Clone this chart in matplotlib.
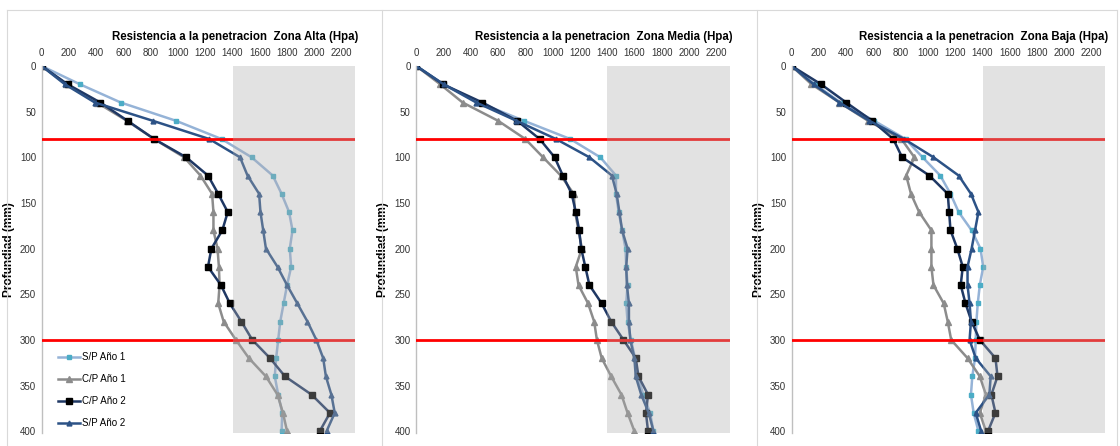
import numpy as np
import matplotlib
matplotlib.use('Agg')
import matplotlib.pyplot as plt
from matplotlib.patches import Rectangle
from matplotlib.lines import Line2D

plt.rcParams['font.family'] = ['Liberation Sans', 'DejaVu Sans']

# depth of each reading (mm)
depth = [0, 20, 40, 60, 80, 100, 120, 140, 160, 180, 200, 220, 240, 260, 280, 300, 320, 340, 360, 380, 400]

# Zona Alta
sp1_alta = [0, 280, 580, 985, 1320, 1540, 1695, 1760, 1815, 1840, 1820, 1830, 1800, 1775, 1750, 1735, 1720, 1710, 1735, 1765, 1760]
cp1_alta = [0, 180, 405, 625, 825, 1045, 1165, 1250, 1260, 1260, 1290, 1300, 1305, 1295, 1335, 1425, 1520, 1645, 1730, 1770, 1800]
cp2_alta = [0, 190, 430, 630, 825, 1060, 1220, 1295, 1365, 1325, 1245, 1220, 1315, 1380, 1465, 1545, 1675, 1785, 1980, 2115, 2040]
sp2_alta = [0, 170, 390, 815, 1230, 1455, 1510, 1595, 1605, 1625, 1645, 1730, 1800, 1875, 1950, 2015, 2065, 2085, 2125, 2150, 2090]

# Zona Media
sp1_media = [0, 200, 460, 790, 1130, 1350, 1465, 1465, 1485, 1510, 1535, 1540, 1550, 1540, 1550, 1575, 1605, 1625, 1665, 1715, 1740]
cp1_media = [0, 175, 340, 600, 800, 930, 1060, 1155, 1165, 1190, 1215, 1170, 1190, 1260, 1305, 1325, 1360, 1430, 1505, 1550, 1600]
cp2_media = [0, 195, 485, 740, 905, 1015, 1075, 1140, 1170, 1195, 1210, 1240, 1270, 1360, 1430, 1520, 1610, 1630, 1700, 1685, 1700]
sp2_media = [0, 200, 440, 735, 1025, 1270, 1435, 1470, 1490, 1510, 1550, 1540, 1545, 1560, 1560, 1570, 1600, 1610, 1650, 1705, 1740]

# Zona Baja
sp1_baja = [0, 170, 360, 605, 835, 960, 1090, 1165, 1225, 1320, 1385, 1405, 1380, 1365, 1355, 1350, 1345, 1325, 1315, 1335, 1370]
cp1_baja = [0, 145, 350, 560, 805, 900, 840, 875, 935, 1025, 1025, 1025, 1040, 1115, 1145, 1170, 1290, 1380, 1425, 1380, 1425]
cp2_baja = [0, 215, 400, 590, 745, 810, 1010, 1145, 1155, 1165, 1215, 1255, 1240, 1275, 1320, 1380, 1495, 1510, 1465, 1495, 1440]
sp2_baja = [0, 160, 350, 570, 825, 1040, 1225, 1315, 1370, 1345, 1320, 1290, 1290, 1305, 1315, 1305, 1350, 1460, 1450, 1350, 1390]

zonas = ['Alta', 'Media', 'Baja']
series = [[sp1_alta, cp1_alta, cp2_alta, sp2_alta],
          [sp1_media, cp1_media, cp2_media, sp2_media],
          [sp1_baja, cp1_baja, cp2_baja, sp2_baja]]
labels = ['S/P Año 1', 'C/P Año 1', 'C/P Año 2', 'S/P Año 2']
xticks = list(range(0, 2201, 200))
yticks = list(range(0, 401, 50))
limite = 1400
capas = [80, 300]

styles = [dict(color='#95b3d7', marker='s', ms=3.2, mfc='#4bacc6', mec='#4bacc6', lw=1.8),
          dict(color='#8c8c8c', marker='^', ms=5, mfc='#8c8c8c', mec='#8c8c8c', lw=1.8),
          dict(color='#1f3864', marker='s', ms=4, mfc='black', mec='black', lw=1.8),
          dict(color='#2c5286', marker='^', ms=3.5, mfc='#2c5286', mec='#2c5286', lw=1.8)]

fig = plt.figure(figsize=(11.2, 4.46), dpi=100)

# chart frames
frame_col = '#d9d9d9'
fig.add_artist(Line2D([7/1120, 1117/1120], [1 - 10/446, 1 - 10/446], color=frame_col, lw=0.8))
for xp in [7, 382, 757, 1117]:
    fig.add_artist(Line2D([xp/1120, xp/1120], [0, 1 - 10/446], color=frame_col, lw=0.8))

lefts = [41.7, 416.3, 791.7]
for k in range(3):
    ax = fig.add_axes([lefts[k]/1120, 13/446, 313.5/1120, 367/446])
    for s, st, lab in zip(series[k], styles, labels):
        ax.plot(s, depth, label=lab, zorder=2, **st)
    for c in capas:
        ax.axhline(c, color='red', lw=2, zorder=3)
    ax.add_patch(Rectangle((limite, 0), 2300 - limite, 402, facecolor='#adadad', alpha=0.35,
                           edgecolor='none', zorder=4))
    ax.set_xlim(0, 2300)
    ax.set_ylim(402, 0)
    ax.set_xticks(xticks)
    ax.set_yticks(yticks)
    ax.xaxis.tick_top()
    ax.tick_params(axis='both', length=0, labelsize=7, colors='#333333')
    ax.tick_params(axis='x', pad=6)
    ax.tick_params(axis='y', pad=4)
    for sp in ['top', 'right', 'bottom']:
        ax.spines[sp].set_visible(False)
    ax.spines['left'].set_color('#bfbfbf')
    ax.spines['left'].set_linewidth(1)
    ax.set_ylabel('Profundiad (mm)', fontsize=8.6, fontweight='bold')
    ax.yaxis.set_label_coords(-0.086, 0.5)
    ax.text(1.01, 1.079, 'Resistencia a la penetracion  Zona ' + zonas[k] + ' (Hpa)',
            transform=ax.transAxes, ha='right', va='center', fontsize=8.3, fontweight='bold')
    if k == 0:
        ax.legend(loc='upper left', bbox_to_anchor=(0.035, 0.234), frameon=False, fontsize=7,
                  labelspacing=1.25, handlelength=2.3, handletextpad=0.2, borderpad=0)

fig.savefig('out.png', dpi=100)
